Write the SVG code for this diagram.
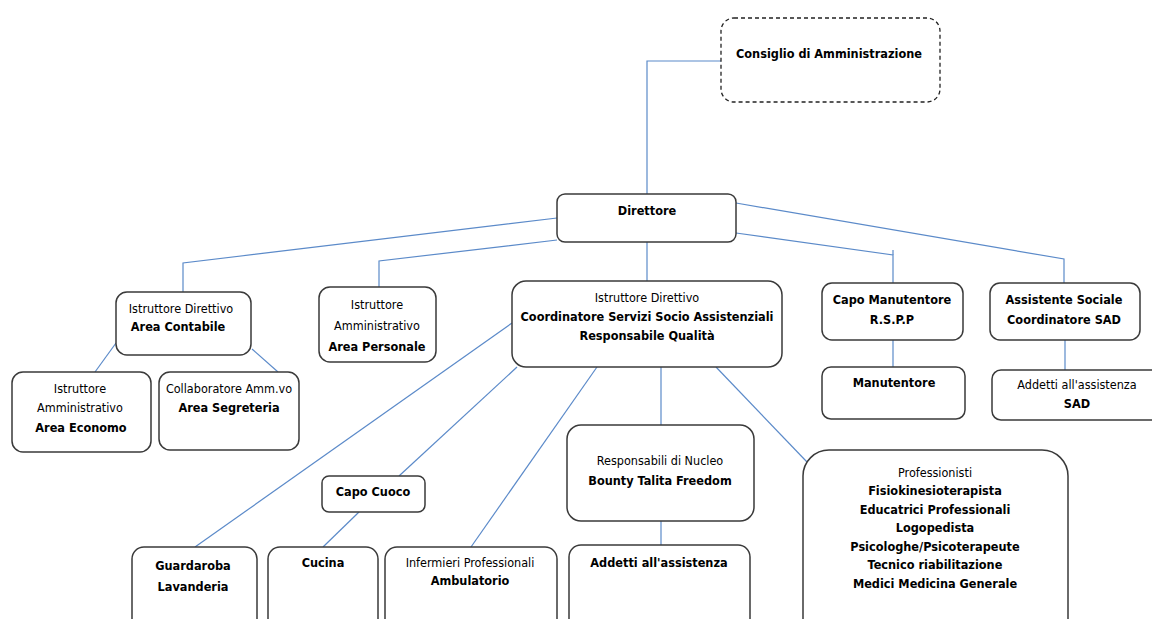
<svg xmlns="http://www.w3.org/2000/svg" width="1152" height="619" viewBox="0 0 1152 619">
<style>
.box{fill:#fff;stroke:#3a3a3a;stroke-width:1.5}
.dash{fill:#fff;stroke:#222;stroke-width:1.3;stroke-dasharray:4 3}
.c{fill:none;stroke:#5b8ac9;stroke-width:1.2}
text{font-family:"DejaVu Sans Condensed","Liberation Sans",sans-serif;text-anchor:middle;fill:#000}
.b{font-weight:bold;font-size:12.6px}
.n{font-size:12.5px}
</style>
<rect width="1152" height="619" fill="#fff"/>
<g id="connectors">
<polyline class="c" points="721,61 647,61 647,194"/>
<line class="c" x1="647" y1="242" x2="647" y2="281"/>
<polyline class="c" points="557,218 183,263 183,292"/>
<polyline class="c" points="557,240 379,261 379,287"/>
<polyline class="c" points="736,233 893,255 893,283"/>
<line class="c" x1="893" y1="250" x2="893" y2="255"/>
<polyline class="c" points="736,203 1064,259 1064,283"/>
<line class="c" x1="116" y1="343" x2="95" y2="372"/>
<line class="c" x1="252" y1="349" x2="278" y2="372"/>
<line class="c" x1="893" y1="340" x2="893" y2="367"/>
<line class="c" x1="1065" y1="340" x2="1065" y2="370"/>
<line class="c" x1="512" y1="323" x2="195" y2="547"/>
<line class="c" x1="517" y1="367" x2="399" y2="476"/>
<line class="c" x1="359" y1="512" x2="323" y2="547"/>
<line class="c" x1="597" y1="367" x2="471" y2="547"/>
<line class="c" x1="661" y1="367" x2="661" y2="425"/>
<line class="c" x1="661" y1="521" x2="661" y2="545"/>
<line class="c" x1="716" y1="367" x2="807" y2="462"/>
</g>
<g id="consiglio">
<rect class="dash" x="721" y="18" width="219" height="84" rx="13"/>
<text class="b" x="829" y="58">Consiglio di Amministrazione</text>
</g>
<g id="direttore">
<rect class="box" x="557" y="194" width="179" height="48" rx="8"/>
<text class="b" x="647" y="215">Direttore</text>
</g>
<g id="area-contabile">
<rect class="box" x="116" y="292" width="135" height="63" rx="11"/>
<text class="n" x="181" y="313">Istruttore  Direttivo</text>
<text class="b" x="178" y="331">Area Contabile</text>
</g>
<g id="area-personale">
<rect class="box" x="319" y="287" width="117" height="75" rx="11"/>
<text class="n" x="377" y="309">Istruttore</text>
<text class="n" x="377" y="330">Amministrativo</text>
<text class="b" x="377" y="351">Area Personale</text>
</g>
<g id="area-economo">
<rect class="box" x="12" y="372" width="139" height="80" rx="11"/>
<text class="n" x="80" y="393">Istruttore</text>
<text class="n" x="80" y="412">Amministrativo</text>
<text class="b" x="81" y="432">Area Economo</text>
</g>
<g id="area-segreteria">
<rect class="box" x="159" y="372" width="140" height="78" rx="11"/>
<text class="n" x="229" y="393">Collaboratore Amm.vo</text>
<text class="b" x="229" y="412">Area Segreteria</text>
</g>
<g id="coordinatore">
<rect class="box" x="512" y="281" width="270" height="86" rx="14"/>
<text class="n" x="647" y="302">Istruttore Direttivo</text>
<text class="b" x="647" y="321">Coordinatore Servizi Socio Assistenziali</text>
<text class="b" x="647" y="340">Responsabile Qualità</text>
</g>
<g id="capo-manutentore">
<rect class="box" x="822" y="283" width="141" height="57" rx="10"/>
<text class="b" x="892" y="304">Capo Manutentore</text>
<text class="b" x="892" y="324">R.S.P.P</text>
</g>
<g id="manutentore">
<rect class="box" x="822" y="367" width="143" height="52" rx="9"/>
<text class="b" x="894" y="387">Manutentore</text>
</g>
<g id="assistente-sociale">
<rect class="box" x="990" y="283" width="150" height="57" rx="10"/>
<text class="b" x="1064" y="304">Assistente Sociale</text>
<text class="b" x="1064" y="324">Coordinatore SAD</text>
</g>
<g id="addetti-sad">
<rect class="box" x="992" y="370" width="170" height="50" rx="9"/>
<text class="n" x="1077" y="389">Addetti  all'assistenza</text>
<text class="b" x="1077" y="408">SAD</text>
</g>
<g id="capo-cuoco">
<rect class="box" x="322" y="476" width="103" height="36" rx="7"/>
<text class="b" x="373" y="496">Capo Cuoco</text>
</g>
<g id="guardaroba">
<rect class="box" x="132" y="547" width="125" height="100" rx="12"/>
<text class="b" x="193" y="570">Guardaroba</text>
<text class="b" x="193" y="591">Lavanderia</text>
</g>
<g id="cucina">
<rect class="box" x="268" y="547" width="110" height="100" rx="12"/>
<text class="b" x="323" y="567">Cucina</text>
</g>
<g id="infermieri">
<rect class="box" x="385" y="547" width="172" height="100" rx="12"/>
<text class="n" x="470" y="567">Infermieri Professionali</text>
<text class="b" x="470" y="585">Ambulatorio</text>
</g>
<g id="responsabili-nucleo">
<rect class="box" x="567" y="425" width="187" height="96" rx="14"/>
<text class="n" x="660" y="465">Responsabili di Nucleo</text>
<text class="b" x="660" y="485">Bounty  Talita Freedom</text>
</g>
<g id="addetti-assistenza">
<rect class="box" x="569" y="545" width="181" height="100" rx="12"/>
<text class="b" x="659" y="567">Addetti all'assistenza</text>
</g>
<g id="professionisti">
<rect class="box" x="803" y="450" width="265" height="200" rx="26"/>
<text class="n" x="935" y="477">Professionisti</text>
<text class="b" x="935" y="495">Fisiokinesioterapista</text>
<text class="b" x="935" y="514">Educatrici Professionali</text>
<text class="b" x="935" y="532">Logopedista</text>
<text class="b" x="935" y="551">Psicologhe/Psicoterapeute</text>
<text class="b" x="935" y="569">Tecnico riabilitazione</text>
<text class="b" x="935" y="588">Medici Medicina Generale</text>
</g>
</svg>
